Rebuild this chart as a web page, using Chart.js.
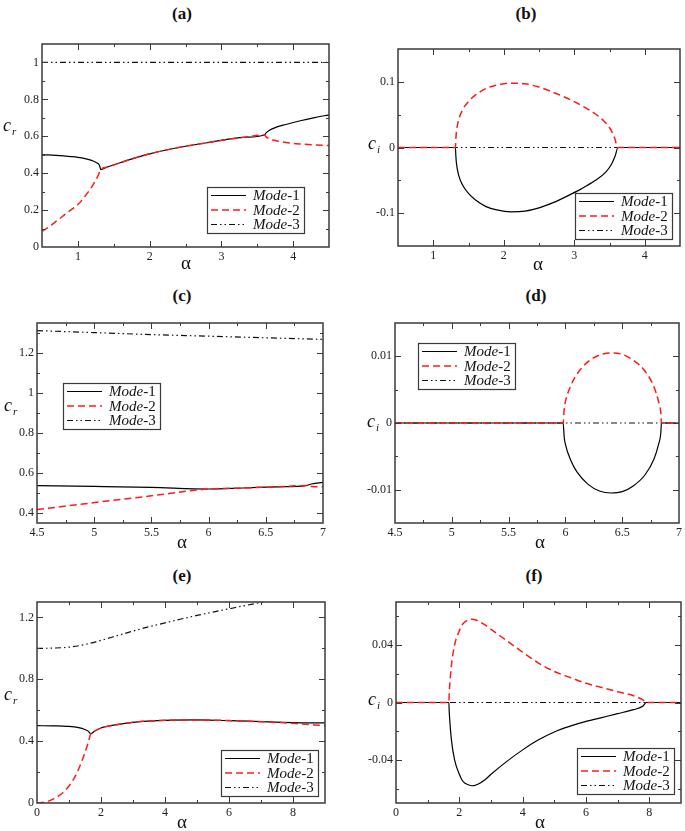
<!DOCTYPE html>
<html>
<head>
<meta charset="utf-8">
<script src="https://cdn.jsdelivr.net/npm/chart.js@4.4.0/dist/chart.umd.min.js"></script>
<style>
  body { margin:0; background:#fff; width:685px; height:831px; position:relative; overflow:hidden;
         font-family:'Liberation Serif','Times New Roman',serif; color:#111; }
  .box { position:absolute; }
  .ttl { position:absolute; font-weight:bold; font-size:17px; line-height:1; transform:translate(-50%,-50%); }
  .al { position:absolute; font-size:19px; line-height:1; transform:translate(-50%,-50%); }
  .cl { position:absolute; font-size:18px; font-style:italic; line-height:1; }
  .cl sub { font-size:11px; position:relative; top:4px; vertical-align:baseline; margin-left:1px; }
</style>
</head>
<body>

<div class="box" id="pa"><canvas id="ca" width="340" height="242"></canvas></div>
<div class="box" id="pb"><canvas id="cb" width="345" height="242"></canvas></div>
<div class="box" id="pc"><canvas id="cc" width="340" height="242"></canvas></div>
<div class="box" id="pd"><canvas id="cd" width="345" height="242"></canvas></div>
<div class="box" id="pe"><canvas id="ce" width="340" height="241"></canvas></div>
<div class="box" id="pf"><canvas id="cf" width="345" height="241"></canvas></div>

<div class="ttl" style="left:182px;top:13px">(a)</div>
<div class="ttl" style="left:526px;top:13px">(b)</div>
<div class="ttl" style="left:182px;top:295px">(c)</div>
<div class="ttl" style="left:536px;top:295px">(d)</div>
<div class="ttl" style="left:182px;top:575px">(e)</div>
<div class="ttl" style="left:534px;top:575px">(f)</div>

<div class="al" style="left:186px;top:262px">α</div>
<div class="al" style="left:538px;top:263px">α</div>
<div class="al" style="left:182px;top:541px">α</div>
<div class="al" style="left:540px;top:541px">α</div>
<div class="al" style="left:182px;top:821px">α</div>
<div class="al" style="left:540px;top:821px">α</div>

<div class="cl" style="left:3px;top:116px">c<sub>r</sub></div>
<div class="cl" style="left:368px;top:134px">c<sub>i</sub></div>
<div class="cl" style="left:4px;top:396px">c<sub>r</sub></div>
<div class="cl" style="left:367px;top:412px">c<sub>i</sub></div>
<div class="cl" style="left:4px;top:685px">c<sub>r</sub></div>
<div class="cl" style="left:368px;top:690px">c<sub>i</sub></div>

<script>
// ---- panel (a): c_r vs alpha
const aM1X = [0.5, 0.7, 0.9, 1.0, 1.1, 1.2, 1.26, 1.30, 1.32, 1.4, 1.6, 1.8, 2.0, 2.2, 2.5, 2.8, 3.0, 3.3, 3.6, 3.62, 3.66, 3.75, 3.9, 4.1, 4.3, 4.5];
const aM1Y = [0.500, 0.496, 0.490, 0.486, 0.479, 0.468, 0.457, 0.443, 0.420, 0.432, 0.458, 0.483, 0.505, 0.523, 0.546, 0.565, 0.578, 0.594, 0.607, 0.617, 0.630, 0.647, 0.664, 0.684, 0.701, 0.716];
const aM2X = [0.5, 0.6, 0.7, 0.8, 0.9, 1.0, 1.1, 1.2, 1.28, 1.32, 1.4, 1.6, 1.8, 2.0, 2.2, 2.5, 2.8, 3.0, 3.3, 3.6, 3.62, 3.66, 3.75, 3.9, 4.1, 4.3, 4.5];
const aM2Y = [0.085, 0.110, 0.140, 0.170, 0.200, 0.230, 0.275, 0.330, 0.385, 0.420, 0.432, 0.458, 0.483, 0.505, 0.523, 0.546, 0.565, 0.578, 0.594, 0.607, 0.598, 0.588, 0.577, 0.566, 0.558, 0.553, 0.550];
const aM3X = [0.5, 4.5];
const aM3Y = [1, 1];

// ---- panel (b): c_i vs alpha
const bM1X = [0.5, 1.0, 1.315, 1.32, 1.33, 1.36, 1.42, 1.5, 1.6, 1.75, 1.9, 2.1, 2.3, 2.5, 2.7, 2.9, 3.1, 3.3, 3.45, 3.53, 3.58, 3.62, 4.0, 4.5];
const bM1Y = [0, 0, 0, -0.012, -0.025, -0.042, -0.058, -0.070, -0.080, -0.090, -0.095, -0.098, -0.097, -0.092, -0.084, -0.074, -0.063, -0.050, -0.037, -0.025, -0.013, 0, 0, 0];
const bM2X = [0.5, 1.0, 1.315, 1.32, 1.33, 1.36, 1.42, 1.5, 1.6, 1.75, 1.9, 2.1, 2.3, 2.5, 2.7, 2.9, 3.1, 3.3, 3.45, 3.53, 3.58, 3.61, 4.0, 4.5];
const bM2Y = [0, 0, 0, 0.012, 0.025, 0.042, 0.058, 0.070, 0.080, 0.090, 0.095, 0.098, 0.097, 0.092, 0.084, 0.075, 0.064, 0.051, 0.037, 0.025, 0.012, 0, 0, 0];
const bM3X = [0.5, 4.5];
const bM3Y = [0, 0];

// ---- panel (c)
const cM1X = [4.5, 5.0, 5.5, 6.0, 6.3, 6.6, 6.85, 6.9, 7.0];
const cM1Y = [0.537, 0.533, 0.528, 0.520, 0.525, 0.531, 0.537, 0.545, 0.553];
const cM2X = [4.5, 5.0, 5.5, 6.0, 6.3, 6.6, 6.85, 6.9, 7.0];
const cM2Y = [0.417, 0.452, 0.486, 0.520, 0.525, 0.531, 0.537, 0.533, 0.531];
const cM3X = [4.5, 5.0, 5.5, 6.0, 6.5, 7.0];
const cM3Y = [1.312, 1.302, 1.292, 1.284, 1.276, 1.268];

// ---- panel (d)
const dM1X = [4.5, 5.5, 5.98, 5.99, 6.0, 6.05, 6.1, 6.2, 6.3, 6.4, 6.5, 6.6, 6.7, 6.78, 6.82, 6.84, 6.845, 7.0];
const dM1Y = [0, 0, 0, -0.0022, -0.0032, -0.0057, -0.0073, -0.0092, -0.0102, -0.0105, -0.0103, -0.0094, -0.0078, -0.0054, -0.0032, -0.0015, 0, 0];
const dM2X = [4.5, 5.5, 5.98, 5.99, 6.0, 6.05, 6.1, 6.2, 6.3, 6.4, 6.5, 6.6, 6.7, 6.78, 6.82, 6.84, 6.845, 7.0];
const dM2Y = [0, 0, 0, 0.0022, 0.0032, 0.0057, 0.0073, 0.0092, 0.0102, 0.0105, 0.0103, 0.0094, 0.0078, 0.0054, 0.0032, 0.0015, 0, 0];
const dM3X = [4.5, 7.0];
const dM3Y = [0, 0];

// ---- panel (e)
const eM1X = [0, 0.5, 1.0, 1.3, 1.5, 1.6, 1.68, 1.8, 2.0, 2.5, 3.0, 3.5, 4.0, 5.0, 6.0, 7.0, 8.0, 9.0];
const eM1Y = [0.500, 0.499, 0.495, 0.487, 0.475, 0.465, 0.448, 0.465, 0.485, 0.507, 0.522, 0.530, 0.535, 0.537, 0.533, 0.526, 0.520, 0.518];
const eM2X = [0, 0.3, 0.5, 0.8, 1.0, 1.2, 1.4, 1.6, 1.68, 1.8, 2.0, 2.5, 3.0, 3.5, 4.0, 5.0, 6.0, 7.0, 8.0, 9.0];
const eM2Y = [0, 0.008, 0.025, 0.065, 0.110, 0.175, 0.270, 0.390, 0.448, 0.465, 0.485, 0.507, 0.522, 0.530, 0.535, 0.537, 0.533, 0.526, 0.515, 0.500];
const eM3X = [0, 0.5, 1, 1.5, 2, 2.5, 3, 3.5, 4, 4.5, 5, 5.5, 6, 6.5, 7, 7.5];
const eM3Y = [1.000, 1.002, 1.008, 1.025, 1.052, 1.082, 1.112, 1.140, 1.165, 1.190, 1.213, 1.235, 1.256, 1.277, 1.297, 1.316];

// ---- panel (f)
const fM1X = [0, 1.0, 1.67, 1.68, 1.7, 1.75, 1.85, 2.0, 2.1, 2.2, 2.3, 2.4, 2.5, 2.6, 2.8, 3.0, 3.5, 4.0, 4.5, 5.0, 5.5, 6.0, 6.5, 7.0, 7.5, 7.8, 7.9, 8.5, 9.0];
const fM1Y = [0, 0, 0, -0.006, -0.013, -0.026, -0.040, -0.050, -0.0545, -0.0565, -0.0575, -0.058, -0.0577, -0.0568, -0.0540, -0.050, -0.041, -0.033, -0.026, -0.0205, -0.0165, -0.0132, -0.0105, -0.0078, -0.0050, -0.0025, 0, 0, 0];
const fM2X = [0, 1.0, 1.67, 1.68, 1.7, 1.75, 1.85, 2.0, 2.1, 2.2, 2.3, 2.4, 2.5, 2.6, 2.8, 3.0, 3.5, 4.0, 4.5, 5.0, 5.5, 6.0, 6.5, 7.0, 7.5, 7.8, 7.9, 8.5, 9.0];
const fM2Y = [0, 0, 0, 0.006, 0.013, 0.026, 0.040, 0.050, 0.0545, 0.0565, 0.0575, 0.058, 0.0577, 0.0568, 0.0542, 0.051, 0.043, 0.035, 0.0275, 0.0216, 0.0174, 0.0134, 0.0104, 0.0075, 0.0047, 0.0018, 0, 0, 0];
const fM3X = [0, 9];
const fM3Y = [0, 0];

// ---- axis tick labels (major) and minor steps
const aXTicks = [1, 2, 3, 4], aYTicks = [0, 0.2, 0.4, 0.6, 0.8, 1];
const bXTicks = [1, 2, 3, 4], bYTicks = [-0.1, 0, 0.1];
const cXTicks = [4.5, 5, 5.5, 6, 6.5, 7], cYTicks = [0.4, 0.6, 0.8, 1, 1.2];
const dXTicks = [4.5, 5, 5.5, 6, 6.5, 7], dYTicks = [-0.01, 0, 0.01];
const eXTicks = [0, 2, 4, 6, 8], eYTicks = [0, 0.4, 0.8, 1.2];
const fXTicks = [0, 2, 4, 6, 8], fYTicks = [-0.04, 0, 0.04];
const modeLabels = ['Mode-1', 'Mode-2', 'Mode-3'];

const FONT = "'Liberation Serif', 'Times New Roman', serif";

function pts(xs, ys) { return xs.map((x, i) => ({ x: x, y: ys[i] })); }

function minorList(min, max, step, major) {
    let out = [];
    for (let k = Math.ceil(min / step - 1e-6); k * step <= max + 1e-9; k++) {
        let v = k * step;
        if (v <= min + 1e-9 || v >= max - 1e-9) continue;
        if (major.some(m => Math.abs(m - v) < step / 10)) continue;
        out.push(v);
    }
    return out;
}

// frame round the plot with inward ticks on all four sides
const frameTicks = {
    id: 'frameTicks',
    afterDatasetsDraw(chart, args, o) {
        const ctx = chart.ctx, a = chart.chartArea;
        const sx = chart.scales.x, sy = chart.scales.y;
        ctx.save();
        ctx.strokeStyle = '#3a3a3a';
        ctx.lineWidth = 1;
        function xt(v, len) {
            if (v <= sx.min + 1e-9 || v >= sx.max - 1e-9) return;
            let p = Math.round(sx.getPixelForValue(v)) + 0.5;
            ctx.beginPath();
            ctx.moveTo(p, a.bottom); ctx.lineTo(p, a.bottom - len);
            ctx.moveTo(p, a.top); ctx.lineTo(p, a.top + len);
            ctx.stroke();
        }
        function yt(v, len) {
            if (v <= sy.min + 1e-9 || v >= sy.max - 1e-9) return;
            let p = Math.round(sy.getPixelForValue(v)) + 0.5;
            ctx.beginPath();
            ctx.moveTo(a.left, p); ctx.lineTo(a.left + len, p);
            ctx.moveTo(a.right, p); ctx.lineTo(a.right - len, p);
            ctx.stroke();
        }
        o.xMajor.forEach(v => xt(v, 6));
        minorList(sx.min, sx.max, o.xMinor, o.xMajor).forEach(v => xt(v, 3));
        o.yMajor.forEach(v => yt(v, 6));
        minorList(sy.min, sy.max, o.yMinor, o.yMajor).forEach(v => yt(v, 3));
        ctx.lineWidth = 1.5;
        ctx.strokeRect(a.left, a.top, a.right - a.left, a.bottom - a.top);
        ctx.restore();
    }
};

// boxed legend drawn inside the plot
const modeLegend = {
    id: 'modeLegend',
    afterDraw(chart, args, o) {
        const ctx = chart.ctx;
        const w = 97, h = 46;
        ctx.save();
        ctx.fillStyle = '#fff';
        ctx.fillRect(o.x, o.y, w, h);
        ctx.strokeStyle = '#3a3a3a';
        ctx.lineWidth = 1.2;
        ctx.strokeRect(o.x + 0.5, o.y + 0.5, w, h);
        chart.data.datasets.forEach((ds, i) => {
            let yy = o.y + 8.5 + i * 14.5;
            ctx.strokeStyle = ds.borderColor;
            ctx.lineWidth = ds.borderWidth;
            ctx.setLineDash(ds.borderDash || []);
            ctx.beginPath();
            ctx.moveTo(o.x + 4, yy); ctx.lineTo(o.x + 39, yy);
            ctx.stroke();
            ctx.setLineDash([]);
            ctx.fillStyle = '#111';
            ctx.textBaseline = 'middle';
            let parts = ds.label.split('-');
            ctx.font = 'italic 15px ' + FONT;
            ctx.fillText(parts[0], o.x + 46, yy + 1);
            let wd = ctx.measureText(parts[0]).width;
            ctx.font = '15px ' + FONT;
            ctx.fillText('-' + parts[1], o.x + 46 + wd, yy + 1);
        });
        ctx.restore();
    }
};

function MakePanel(id, box, area, xr, yr, series, legendAt) {
    let holder = document.getElementById('p' + id);
    holder.style.left = box[0] + 'px';
    holder.style.top = box[1] + 'px';
    let styles = [
        { borderColor: '#000', borderWidth: 1.2, borderDash: [], order: 3 },
        { borderColor: '#ff1a1a', borderWidth: 1.5, borderDash: [7, 4], order: 1 },
        { borderColor: '#111', borderWidth: 1.2, borderDash: [6, 3, 1.5, 3, 1.5, 3], order: 2 }
    ];
    let datasets = series.map((s, i) => Object.assign({
        label: modeLabels[i],
        data: pts(s[0], s[1]),
        pointRadius: 0,
        fill: false,
        cubicInterpolationMode: 'monotone'
    }, styles[i]));
    let tickFont = { family: FONT, size: 12 };
    new Chart(document.getElementById('c' + id), {
        type: 'line',
        data: { datasets: datasets },
        options: {
            responsive: false,
            animation: false,
            events: [],
            layout: { padding: { left: 0, bottom: 0, top: area[1] - box[1], right: box[0] + box[2] - area[2] } },
            plugins: {
                legend: { display: false },
                tooltip: { enabled: false },
                frameTicks: { xMajor: xr.major, xMinor: xr.minor, yMajor: yr.major, yMinor: yr.minor },
                modeLegend: { x: legendAt[0] - box[0], y: legendAt[1] - box[1] }
            },
            scales: {
                x: {
                    type: 'linear', min: xr.min, max: xr.max,
                    grid: { display: false, drawTicks: false },
                    border: { display: false },
                    ticks: { font: tickFont, color: '#222', padding: 3, autoSkip: false, maxRotation: 0, callback: v => String(v) },
                    afterBuildTicks: s => { s.ticks = xr.major.map(v => ({ value: v })); },
                    afterFit: s => { s.height = box[1] + box[3] - area[3]; }
                },
                y: {
                    type: 'linear', min: yr.min, max: yr.max,
                    grid: { display: false, drawTicks: false },
                    border: { display: false },
                    ticks: { font: tickFont, color: '#222', padding: 3, autoSkip: false, callback: v => String(v) },
                    afterBuildTicks: s => { s.ticks = yr.major.map(v => ({ value: v })); },
                    afterFit: s => { s.width = area[0] - box[0]; }
                }
            }
        },
        plugins: [frameTicks, modeLegend]
    });
}

MakePanel('a', [0, 30, 340, 242], [42, 44, 329, 247],
    { min: 0.5, max: 4.5, major: aXTicks, minor: 0.5 }, { min: 0, max: 1.1, major: aYTicks, minor: 0.1 },
    [[aM1X, aM1Y], [aM2X, aM2Y], [aM3X, aM3Y]], [207, 187]);
MakePanel('b', [340, 30, 345, 242], [398, 49, 680, 246],
    { min: 0.5, max: 4.5, major: bXTicks, minor: 0.5 }, { min: -0.15, max: 0.15, major: bYTicks, minor: 0.05 },
    [[bM1X, bM1Y], [bM2X, bM2Y], [bM3X, bM3Y]], [575, 193]);
MakePanel('c', [0, 310, 340, 242], [37, 323, 323, 523],
    { min: 4.5, max: 7, major: cXTicks, minor: 0.25 }, { min: 0.35, max: 1.35, major: cYTicks, minor: 0.1 },
    [[cM1X, cM1Y], [cM2X, cM2Y], [cM3X, cM3Y]], [63, 383]);
MakePanel('d', [340, 310, 345, 242], [395, 323, 680, 523],
    { min: 4.5, max: 7, major: dXTicks, minor: 0.25 }, { min: -0.015, max: 0.015, major: dYTicks, minor: 0.005 },
    [[dM1X, dM1Y], [dM2X, dM2Y], [dM3X, dM3Y]], [418, 343]);
MakePanel('e', [0, 590, 340, 241], [37, 602, 325, 803],
    { min: 0, max: 9, major: eXTicks, minor: 1 }, { min: 0, max: 1.3, major: eYTicks, minor: 0.2 },
    [[eM1X, eM1Y], [eM2X, eM2Y], [eM3X, eM3Y]], [221, 750]);
MakePanel('f', [340, 590, 345, 241], [396, 602, 681, 803],
    { min: 0, max: 9, major: fXTicks, minor: 1 }, { min: -0.07, max: 0.07, major: fYTicks, minor: 0.02 },
    [[fM1X, fM1Y], [fM2X, fM2Y], [fM3X, fM3Y]], [577, 748]);
</script>
</body>
</html>
